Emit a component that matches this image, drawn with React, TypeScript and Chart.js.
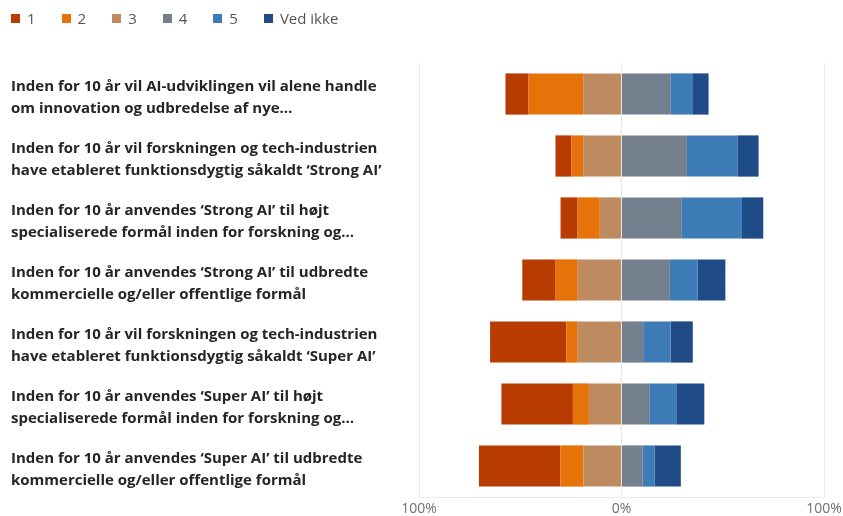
import React, { useEffect, useRef } from "react";
import { Chart, registerables } from "chart.js";

Chart.register(...registerables);

const categories: string[][] = [
  ["Inden for 10 år vil AI-udviklingen vil alene handle", "om innovation og udbredelse af nye…"],
  ["Inden for 10 år vil forskningen og tech-industrien", "have etableret funktionsdygtig såkaldt ‘Strong AI’"],
  ["Inden for 10 år anvendes ‘Strong AI’ til højt", "specialiserede formål inden for forskning og…"],
  ["Inden for 10 år anvendes ‘Strong AI’ til udbredte", "kommercielle og/eller offentlige formål"],
  ["Inden for 10 år vil forskningen og tech-industrien", "have etableret funktionsdygtig såkaldt ‘Super AI’"],
  ["Inden for 10 år anvendes ‘Super AI’ til højt", "specialiserede formål inden for forskning og…"],
  ["Inden for 10 år anvendes ‘Super AI’ til udbredte", "kommercielle og/eller offentlige formål"],
];

// Percent of answers per category
const answer1 = [11.4, 7.9, 8.4, 16.5, 37.7, 35.3, 40.2];
const answer2 = [27.0, 5.8, 11.0, 10.9, 5.6, 7.9, 11.4];
const answer3 = [18.9, 18.9, 10.7, 21.6, 21.6, 16.1, 18.8];
const answer4 = [24.1, 32.3, 29.5, 23.9, 10.7, 13.7, 10.5];
const answer5 = [11.2, 24.9, 30.0, 13.7, 13.5, 13.7, 5.9];
const vedIkke = [7.7, 10.5, 10.5, 13.7, 11.0, 13.5, 12.9];

const seriesNames = ["1", "2", "3", "4", "5", "Ved ikke"];
const seriesColors = ["#B83C02", "#E6730A", "#BE8A5F", "#75808F", "#3E7CB8", "#1F4C86"];
const axisTicks = [-100, 0, 100];

const FONT = "'Open Sans', 'Noto Sans', sans-serif";

const clearPadding = (scale: any) => {
  scale.paddingLeft = 0;
  scale.paddingRight = 0;
  scale.paddingTop = 0;
  scale.paddingBottom = 0;
};

export default function App() {
  const canvasRef = useRef<HTMLCanvasElement | null>(null);

  useEffect(() => {
    document.body.style.margin = "0";
    const canvas = canvasRef.current;
    if (!canvas) return;
    const neg = (arr: number[]) => arr.map((v) => -v);
    const mk = (idx: number, data: number[]) => ({
      label: seriesNames[idx],
      data,
      backgroundColor: seriesColors[idx],
      borderWidth: 0,
      barPercentage: 0.665,
      categoryPercentage: 1,
    });
    // negative side stacks outward from 0: 3, 2, 1
    const datasets = [
      mk(2, neg(answer3)),
      mk(1, neg(answer2)),
      mk(0, neg(answer1)),
      mk(3, answer4),
      mk(4, answer5),
      mk(5, vedIkke),
    ];
    const chart = new Chart(canvas, {
      type: "bar",
      data: { labels: categories, datasets },
      options: {
        indexAxis: "y",
        animation: false,
        responsive: true,
        maintainAspectRatio: false,
        layout: { autoPadding: false, padding: { top: 63, left: 11, right: 19, bottom: 0 } },
        plugins: {
          legend: { display: false },
          tooltip: {
            callbacks: {
              label: (ctx: any) => `${ctx.dataset.label}: ${Math.abs(ctx.raw)}%`,
            },
          },
        },
        scales: {
          x: {
            stacked: true,
            min: -100,
            max: 100,
            afterBuildTicks: (scale: any) => {
              scale.ticks = axisTicks.map((v) => ({ value: v }));
            },
            afterFit: (scale: any) => {
              clearPadding(scale);
              scale.height = 19;
            },
            ticks: {
              callback: (v: any) => `${Math.abs(Number(v))}%`,
              color: "#707070",
              font: { family: FONT, size: 14, lineHeight: 1 },
              padding: 5,
              maxRotation: 0,
            },
            grid: { color: "#ebebeb", drawTicks: false },
            border: { display: true, color: "#ebebeb" },
          },
          y: {
            stacked: true,
            ticks: {
              crossAlign: "far",
              color: "#252525",
              font: { family: FONT, size: 15, weight: "bold", lineHeight: 1.47 },
              padding: 0,
              labelOffset: 4,
            },
            grid: { display: false },
            border: { display: false },
            afterFit: (scale: any) => {
              clearPadding(scale);
              scale.width = 408;
            },
          },
        },
      },
    } as any);
    return () => chart.destroy();
  }, []);

  return (
    <div style={{ position: "absolute", left: 0, top: 0, width: 843, height: 516 }}>
      <canvas ref={canvasRef} />
      <div
        style={{
          position: "absolute",
          left: 11,
          top: 9,
          display: "flex",
          alignItems: "center",
          fontFamily: FONT,
          fontSize: 15,
          color: "#555555",
          lineHeight: "18px",
        }}
      >
        {seriesNames.map((name, i) => (
          <div key={name} style={{ display: "flex", alignItems: "center", marginRight: 26 }}>
            <span
              style={{
                display: "inline-block",
                width: 9,
                height: 9,
                background: seriesColors[i],
                marginRight: 7,
              }}
            />
            <span>{name}</span>
          </div>
        ))}
      </div>
    </div>
  );
}
